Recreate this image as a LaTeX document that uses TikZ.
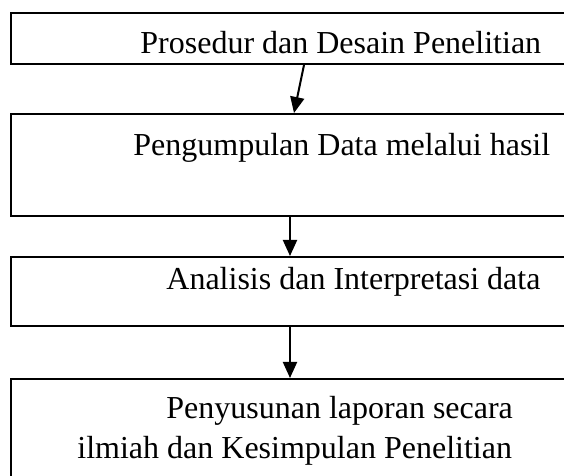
\documentclass[tikz,border=0pt]{standalone}
\usepackage{fontspec}
\setmainfont{Liberation Serif}
\usetikzlibrary{arrows.meta}

\begin{document}
\begin{tikzpicture}[
    x=0.5pt, y=-0.5pt,
    box/.style={draw, line width=1pt, anchor=north west,
                minimum width=285pt, inner sep=0pt},
    flow/.style={-{Triangle[length=8pt,width=7pt]}, line width=1pt},
    label/.style={anchor=base west, inner sep=0pt,
                  font=\fontsize{16}{19}\selectfont},
]

    \useasboundingbox (0,0) rectangle (564,476);
    \clip (0,0) rectangle (564,476);

    \node[box, minimum height=25.5pt] (prosedur) at (10,12) {};
    \node[box, minimum height=51pt] (kumpul) at (10,113) {};
    \node[box, minimum height=34.5pt] (analisis) at (10,256) {};
    \node[box, minimum height=71pt] (susun) at (10,378) {};

    \node[label] (tprosedur) at (140,54) {Prosedur dan Desain Penelitian};
    \node[label] (tkumpul) at (133,156) {Pengumpulan Data melalui hasil};
    \node[label] (tanalisis) at (166,290) {Analisis dan Interpretasi data};
    \node[label] (tsusun) at (166,419) {Penyusunan laporan secara};
    \node[label] (tsimpul) at (77,459) {ilmiah dan Kesimpulan Penelitian};

    \draw[flow] ([xshift=147pt]prosedur.south west) -- ([xshift=142pt]kumpul.north west);
    \draw[flow] ([xshift=140pt]kumpul.south west) -- ([xshift=140pt]analisis.north west);
    \draw[flow] ([xshift=140pt]analisis.south west) -- ([xshift=140pt]susun.north west);

\end{tikzpicture}
\end{document}
